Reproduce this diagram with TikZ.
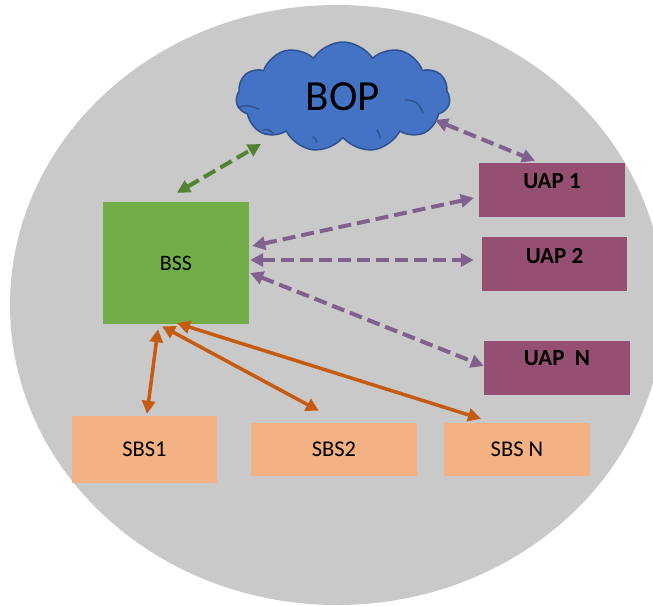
\documentclass[tikz,border=0pt]{standalone}
\usepackage{fontspec}
\setmainfont{Carlito}
\usetikzlibrary{shapes.symbols,arrows.meta,calc}
\definecolor{bggray}{HTML}{C9C9C9}
\definecolor{cloudblue}{HTML}{4472C4}
\definecolor{cloudedge}{HTML}{2F528F}
\definecolor{bssgreen}{HTML}{70AD47}
\definecolor{arrgreen}{HTML}{548235}
\definecolor{uappurple}{HTML}{954F72}
\definecolor{arrpurple}{HTML}{80608C}
\definecolor{sbsorange}{HTML}{F4B183}
\definecolor{arrorange}{HTML}{C55A11}
\tikzset{
  bssbox/.style={fill=bssgreen, minimum width=146pt, minimum height=122pt, inner sep=0pt, font=\fontsize{22}{24}\selectfont},
  uapbox/.style={fill=uappurple, minimum width=146pt, minimum height=54pt, inner sep=0pt},
  uaplabel/.style={font=\fontsize{23}{25}\selectfont\bfseries, inner sep=0pt, anchor=north},
  sbsbox/.style={fill=sbsorange, inner sep=0pt, font=\fontsize{22.5}{24}\selectfont},
  bopcloud/.style={cloud, cloud puffs=11, cloud puff arc=115, cloud ignores aspect, fill=cloudblue, draw=cloudedge, line width=1.5pt, minimum width=214pt, minimum height=110pt, inner sep=0pt, font=\fontsize{43}{45}\selectfont},
  cloudcrease/.style={cloudedge, line width=1.4pt, line cap=round},
  link/.style={>={Triangle[length=13pt, width=13pt]}, <->},
  greenlink/.style={link, arrgreen, line width=4pt, dash pattern=on 13pt off 6pt},
  purplelink/.style={link, arrpurple, line width=4pt, dash pattern=on 13pt off 6pt},
  orangelink/.style={link, arrorange, line width=3.5pt},
}
\begin{document}
\begin{tikzpicture}[x=1pt, y=-1pt]
\useasboundingbox (0,0) rectangle (653,605);
\clip (0,0) rectangle (653,605);
\fill[bggray] (337,305) ellipse [x radius=327, y radius=300];

\node[bopcloud] (bop) at (343,97) {BOP};
\draw[cloudcrease] ($(bop.center)+(-104,10)$) .. controls ($(bop.center)+(-96,8)$) .. ($(bop.center)+(-84,12)$);
\draw[cloudcrease] ($(bop.center)+(-80,33)$) .. controls ($(bop.center)+(-75,32)$) .. ($(bop.center)+(-70,36)$);
\draw[cloudcrease] ($(bop.center)+(-30,40)$) .. controls ($(bop.center)+(-28,41)$) .. ($(bop.center)+(-26,45)$);
\draw[cloudcrease] ($(bop.center)+(34,33)$) .. controls ($(bop.center)+(36,36)$) .. ($(bop.center)+(37,41)$);
\draw[cloudcrease] ($(bop.center)+(62,3)$) .. controls ($(bop.center)+(74,4)$) .. ($(bop.center)+(80,16)$);

\node[bssbox] (bss) at (176,263) {BSS};
\node[uapbox, label={[uaplabel, yshift=-11pt]north:UAP 1}] (uap1) at (552,190) {};
\node[uapbox, minimum width=145pt, label={[uaplabel, yshift=-11pt]north:UAP 2}] (uap2) at (554.5,264) {};
\node[uapbox, label={[uaplabel, yshift=-10pt]north:UAP\ \ N}] (uapn) at (557,368) {};
\node[sbsbox, minimum width=145pt, minimum height=67pt] (sbs1) at (144.5,449.5) {SBS1};
\node[sbsbox, minimum width=166pt, minimum height=53pt] (sbs2) at (334,449.5) {SBS2};
\node[sbsbox, minimum width=146pt, minimum height=53pt] (sbsn) at (517,449.5) {SBS N};

\draw[greenlink] ($(bss.north)+(1,-9)$) -- ($(bop.center)+(-82,47)$);
\draw[purplelink] ($(bop.center)+(92,23)$) -- ($(uap1.north)+(-17,-2)$);
\draw[purplelink] ($(bss.east)+(3,-17)$) -- ($(uap1.west)+(-5,8)$);
\draw[purplelink] ($(bss.east)+(1,-3)$) -- ($(uap2.west)+(-8,-4)$);
\draw[purplelink] ($(bss.east)+(1,10)$) -- ($(uapn.west)+(0,-2)$);
\draw[orangelink] ($(bss.south)+(-18,5)$) -- ($(sbs1.north)+(2.5,-2)$);
\draw[orangelink] ($(bss.south)+(-14,2)$) -- ($(sbs2.north)+(-15,-12)$);
\draw[orangelink] ($(bss.south)+(1,-1)$) -- ($(sbsn.north)+(-36,-4)$);
\end{tikzpicture}
\end{document}
